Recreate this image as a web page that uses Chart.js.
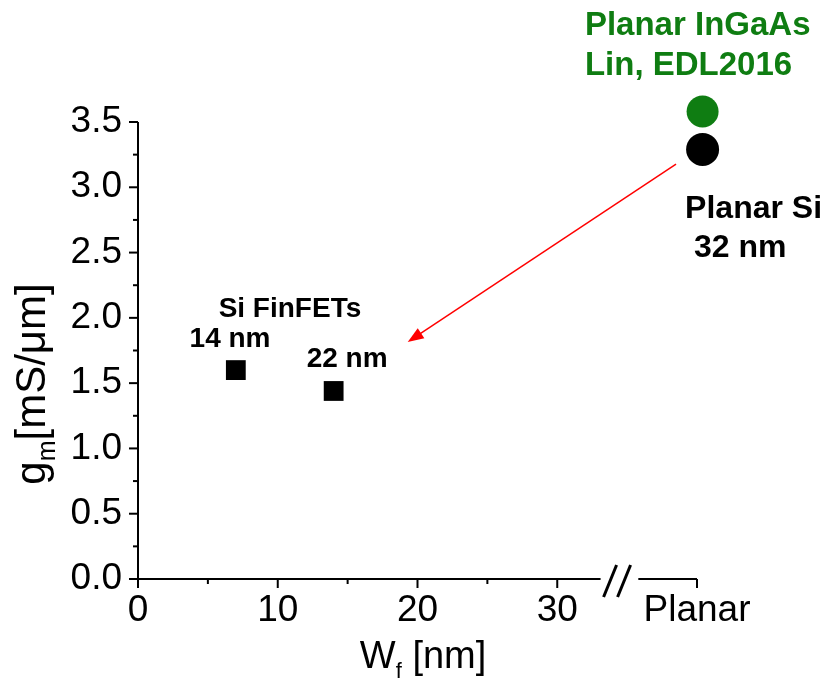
<!DOCTYPE html>
<html>
<head>
<meta charset="utf-8">
<script src="https://cdn.jsdelivr.net/npm/chart.js@4"></script>
<style>
  body { margin: 0; background: #fff; }
  #wrap { width: 828px; height: 682px; position: relative; }
</style>
</head>
<body>
<div id="wrap"><canvas id="gmChart"></canvas></div>
<script>
// --- data ---
const finfetWidth = [7, 14];          // W_f [nm]
const finfetGm = [1.60, 1.44];        // g_m [mS/um]
const planarX = 40.4;                 // "Planar" column (tick at 40)
const planarSiGm = [3.29];
const planarIngaasGm = [3.58];

// axis ticks
const xMin = 0, xMax = 40, xStep = 5;
const yMin = 0, yMax = 3.5, yStep = 0.25;
const xBreak = [33.1, 35.8];          // axis break "//"

// annotations (data units)
const noteText = ['Si FinFETs', '14 nm', '22 nm', 'Planar InGaAs', 'Lin, EDL2016', 'Planar Si', '32 nm'];
const noteX = [5.77, 3.69, 12.07, 31.98, 31.98, 39.15, 39.79];
const noteY = [2.007, 1.777, 1.624, 4.166, 3.86, 2.765, 2.466];
const noteSize = [28, 28, 28, 33, 33, 32, 32];
const noteColor = ['#000', '#000', '#000', '#0f7d12', '#0f7d12', '#000', '#000'];

const arrowFrom = [38.5, 3.178];
const arrowTo = [19.3, 1.815];

const FONT = '"Liberation Sans", Arial, sans-serif';
const GREEN = '#0f7d12';

const pts = (xs, ys) => ys.map((v, i) => ({ x: xs[i], y: v }));

const decor = {
    id: 'decor',
    beforeDatasetsDraw(chart) {
        const { ctx, scales: { x, y } } = chart;
        const x0 = x.getPixelForValue(xMin);
        const y0 = y.getPixelForValue(yMin);
        ctx.save();
        ctx.strokeStyle = '#000';
        ctx.lineWidth = 2;
        const seg = (a, b, c, d) => { ctx.beginPath(); ctx.moveTo(a, b); ctx.lineTo(c, d); ctx.stroke(); };

        // y axis + ticks
        seg(x0, y0 + 1, x0, y.getPixelForValue(yMax));
        y.ticks.forEach(t => {
            const major = Math.abs(t.value / 0.5 - Math.round(t.value / 0.5)) < 1e-6;
            const py = y.getPixelForValue(t.value);
            seg(x0 - (major ? 9 : 5), py, x0, py);
        });

        // x axis with break
        seg(x0 - 1, y0, x.getPixelForValue(xBreak[0]), y0);
        seg(x.getPixelForValue(xBreak[1]), y0, x.getPixelForValue(xMax), y0);
        x.ticks.forEach(t => {
            if (t.value > xBreak[0] && t.value < xBreak[1]) return;
            const major = t.value % 10 === 0;
            const px = x.getPixelForValue(t.value);
            seg(px, y0, px, y0 + (major ? 9 : 5));
        });
        // "//"
        const bx = x.getPixelForValue(xBreak[0]);
        ctx.lineWidth = 3;
        seg(bx + 3, y0 + 18, bx + 16, y0 - 14);
        seg(bx + 17, y0 + 18, bx + 30, y0 - 14);
        ctx.restore();
    },
    afterDatasetsDraw(chart) {
        const { ctx, scales: { x, y }, chartArea } = chart;
        ctx.save();

        // red arrow
        const ax = x.getPixelForValue(arrowFrom[0]), ay = y.getPixelForValue(arrowFrom[1]);
        const bx = x.getPixelForValue(arrowTo[0]), by = y.getPixelForValue(arrowTo[1]);
        const ang = Math.atan2(by - ay, bx - ax);
        const head = 16, half = 6;
        ctx.strokeStyle = '#ff0000';
        ctx.fillStyle = '#ff0000';
        ctx.lineWidth = 1.5;
        ctx.beginPath();
        ctx.moveTo(ax, ay);
        ctx.lineTo(bx - Math.cos(ang) * head * 0.8, by - Math.sin(ang) * head * 0.8);
        ctx.stroke();
        ctx.beginPath();
        ctx.moveTo(bx, by);
        ctx.lineTo(bx - Math.cos(ang) * head - Math.sin(ang) * half, by - Math.sin(ang) * head + Math.cos(ang) * half);
        ctx.lineTo(bx - Math.cos(ang) * head + Math.sin(ang) * half, by - Math.sin(ang) * head - Math.cos(ang) * half);
        ctx.closePath();
        ctx.fill();

        // text notes
        ctx.textAlign = 'left';
        ctx.textBaseline = 'alphabetic';
        noteText.forEach((txt, i) => {
            ctx.font = `bold ${noteSize[i]}px ${FONT}`;
            ctx.fillStyle = noteColor[i];
            ctx.fillText(txt, x.getPixelForValue(noteX[i]), y.getPixelForValue(noteY[i]));
        });

        // x title: W_f [nm]
        ctx.fillStyle = '#000';
        const tx = x.getPixelForValue(20.4), tb = chartArea.bottom + 89;
        ctx.font = `38px ${FONT}`;
        const wW = ctx.measureText('W').width;
        const restW = ctx.measureText(' [nm]').width;
        ctx.font = `22px ${FONT}`;
        const fW = ctx.measureText('f').width;
        let sx = tx - (wW + fW + restW) / 2;
        ctx.font = `38px ${FONT}`;
        ctx.fillText('W', sx, tb);
        ctx.font = `22px ${FONT}`;
        ctx.fillText('f', sx + wW, tb + 10);
        ctx.font = `38px ${FONT}`;
        ctx.fillText(' [nm]', sx + wW + fW, tb);

        // y title: g_m[mS/um]
        ctx.translate(chartArea.left - 93, 384);
        ctx.rotate(-Math.PI / 2);
        ctx.font = `42px ${FONT}`;
        const gW = ctx.measureText('g').width;
        const tailW = ctx.measureText('[mS/\u03bcm]').width;
        ctx.font = `25px ${FONT}`;
        const mW = ctx.measureText('m').width;
        let s = -(gW + mW + tailW) / 2;
        ctx.font = `42px ${FONT}`;
        ctx.fillText('g', s, 0);
        ctx.font = `25px ${FONT}`;
        ctx.fillText('m', s + gW, 10);
        ctx.font = `42px ${FONT}`;
        ctx.fillText('[mS/\u03bcm]', s + gW + mW, 0);
        ctx.restore();
    }
};

new Chart(document.getElementById('gmChart'), {
    type: 'scatter',
    data: {
        datasets: [
            {
                label: 'Si FinFETs',
                data: pts(finfetWidth, finfetGm),
                pointStyle: 'rect',
                radius: 14,
                backgroundColor: '#000',
                borderWidth: 0,
                clip: false
            },
            {
                label: 'Planar Si 32 nm',
                data: pts([planarX], planarSiGm),
                pointStyle: 'circle',
                radius: 16.5,
                backgroundColor: '#000',
                borderWidth: 0,
                clip: false
            },
            {
                label: 'Planar InGaAs',
                data: pts([planarX], planarIngaasGm),
                pointStyle: 'circle',
                radius: 16,
                backgroundColor: GREEN,
                borderWidth: 0,
                clip: false
            }
        ]
    },
    options: {
        responsive: true,
        maintainAspectRatio: false,
        animation: false,
        events: [],
        layout: { padding: { left: 0, top: 122, right: 131, bottom: 0 } },
        plugins: { legend: { display: false }, tooltip: { enabled: false } },
        scales: {
            x: {
                type: 'linear',
                min: xMin, max: xMax,
                border: { display: false },
                grid: { display: false, drawTicks: false },
                afterFit: s => { s.height = 103; },
                ticks: {
                    stepSize: xStep,
                    autoSkip: false,
                    maxRotation: 0,
                    padding: 10,
                    color: '#000',
                    font: { family: FONT, size: 37 },
                    callback: v => v === xMax ? 'Planar' : (v % 10 === 0 ? String(v) : '')
                }
            },
            y: {
                type: 'linear',
                min: yMin, max: yMax,
                border: { display: false },
                grid: { display: false, drawTicks: false },
                afterFit: s => { s.width = 138; },
                ticks: {
                    stepSize: yStep,
                    autoSkip: false,
                    padding: 16,
                    color: '#000',
                    font: { family: FONT, size: 37 },
                    callback: v => (Math.abs(v / 0.5 - Math.round(v / 0.5)) < 1e-6 ? v.toFixed(1) : '')
                }
            }
        }
    },
    plugins: [decor]
});
</script>
</body>
</html>
